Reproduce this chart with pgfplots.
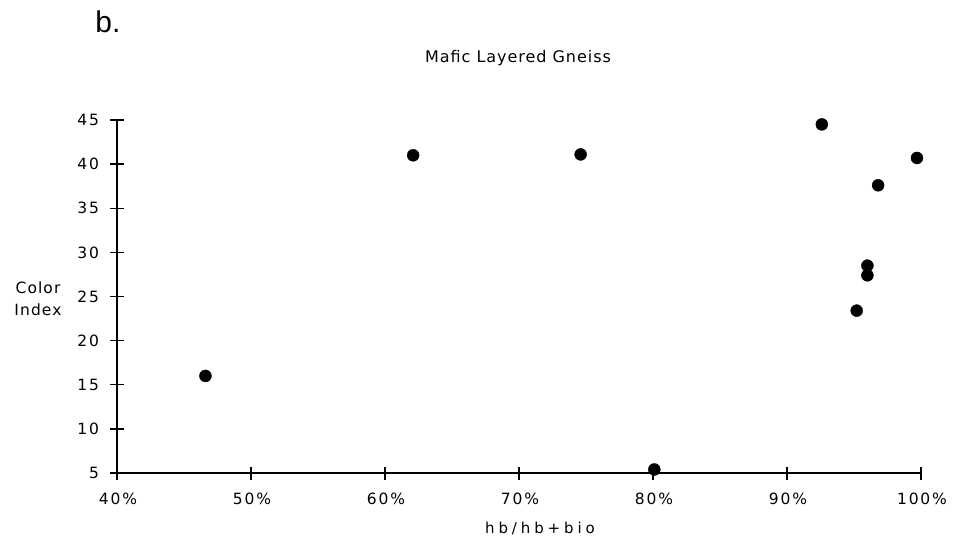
\documentclass[border=0pt]{standalone}
\usepackage{pgfplots}
\pgfplotsset{compat=1.18}
\usepackage{fontspec}
\setmainfont{DejaVu Sans}
\newfontfamily\tickfont[LetterSpace=12]{DejaVu Sans}
\newfontfamily\titlefont[LetterSpace=6]{DejaVu Sans}
\newfontfamily\xlabfont[LetterSpace=26]{DejaVu Sans}
\newfontfamily\ylabfont[LetterSpace=7]{DejaVu Sans}
\newfontfamily\bfontb{Liberation Sans}
\begin{document}
\begin{tikzpicture}[x=1pt,y=1pt]
\path[use as bounding box] (0,0) rectangle (954,542);
\begin{axis}[
  at={(117pt,69pt)}, anchor=south west,
  scale only axis, width=804pt, height=353pt,
  xmin=40, xmax=100, ymin=5, ymax=45,
  axis x line=bottom, axis y line=left,
  axis line style={-, line width=1.6pt},
  xtick={40,50,...,100}, ytick={5,10,...,45},
  xticklabels={40\%,50\%,60\%,70\%,80\%,90\%,100\%},
  tick style={line width=1.3pt, black},
  major tick length=13pt,
  tick align=center,
  tick label style={font=\tickfont\fontsize{15.5}{18}\selectfont},
  /pgf/number format/assume math mode=true,
  xticklabel style={yshift=-10pt, xshift=1pt},
  yticklabel style={xshift=-8pt},
  clip=false,
]
\addplot[only marks, mark=*, mark size=6pt, black] coordinates {
(46.6,16.0) (62.1,41.0) (74.6,41.1) (80.1,5.4) (92.6,44.5)
(99.7,40.7) (96.8,37.6) (96.0,28.5) (96.0,27.4) (95.2,23.4)
};
\end{axis}
\node at (108,520) {\bfontb\fontsize{30}{34}\selectfont b.};
\node at (518,484) {\titlefont\fontsize{16}{18}\selectfont Mafic Layered Gneiss};
\node at (540,14) {\xlabfont\fontsize{15}{18}\selectfont hb/hb+bio};
\node[align=center, font=\ylabfont\fontsize{15.5}{22}\selectfont] at (38,243) {Color\\Index};
\end{tikzpicture}
\end{document}
